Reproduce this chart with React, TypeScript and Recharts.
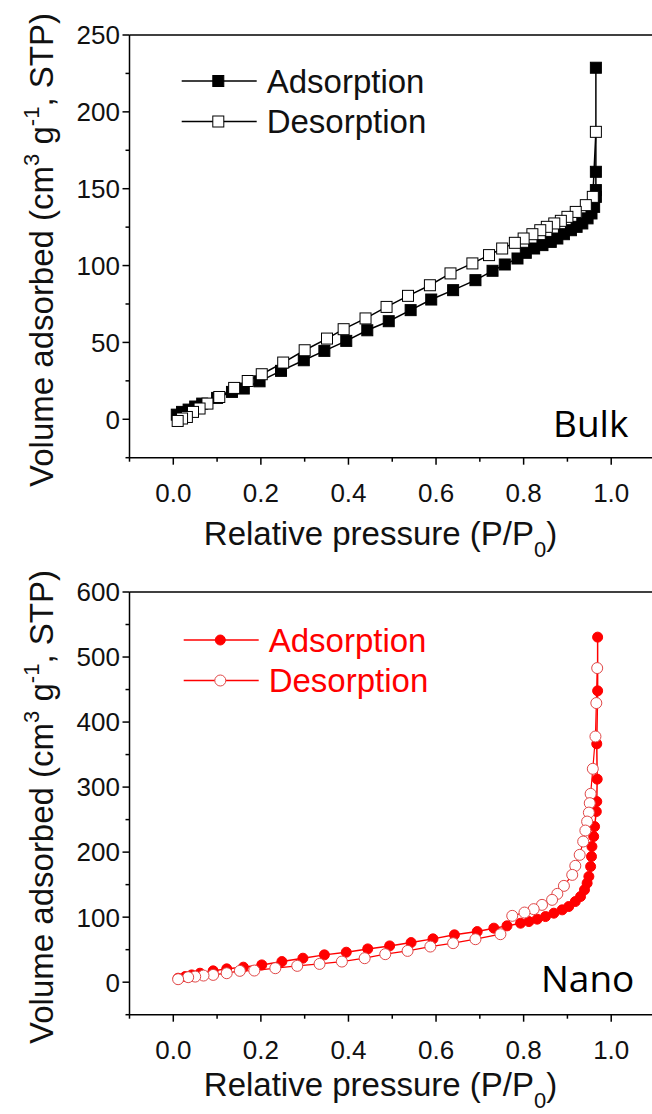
import React from 'react';
import { ScatterChart, Scatter, XAxis, YAxis, ReferenceLine, Legend } from 'recharts';

const FONT = '"Liberation Sans", Arial, sans-serif';
const ANNOT_FONT = '"Open Sans", "Noto Sans", sans-serif';

// ---- ticks / labels ----
const pressureMajorTicks = [0, 0.2, 0.4, 0.6, 0.8, 1.0];
const pressureMinorTicks = [-0.1, 0.1, 0.3, 0.5, 0.7, 0.9];
const bulkMajorTicks = [0, 50, 100, 150, 200, 250];
const bulkMinorTicks = [-25, 25, 75, 125, 175, 225];
const nanoMajorTicks = [0, 100, 200, 300, 400, 500, 600];
const nanoMinorTicks = [-50, 50, 150, 250, 350, 450, 550];
const seriesNames = ['Adsorption', 'Desorption'];
const panelNames = ['Bulk', 'Nano'];

// ---- Bulk ----
const bulkAdsP = [0.008, 0.02, 0.035, 0.05, 0.066, 0.10, 0.134, 0.161, 0.197, 0.246, 0.298, 0.345, 0.395, 0.443, 0.492, 0.542, 0.589, 0.639, 0.690, 0.729, 0.757, 0.786, 0.805, 0.824, 0.843, 0.862, 0.877, 0.892, 0.908, 0.921, 0.934, 0.946, 0.955, 0.961, 0.965, 0.965, 0.965, 0.965];
const bulkAdsV = [3.0, 4.8, 6.3, 8.3, 10.2, 13.9, 17.8, 20.0, 24.7, 31.5, 38.4, 44.5, 51.0, 57.9, 63.8, 71.0, 77.9, 84.0, 90.5, 96.6, 100.7, 104.6, 108.3, 111.1, 113.3, 115.4, 117.6, 120.4, 123.0, 125.2, 127.4, 130.7, 133.9, 138.2, 144.7, 149.1, 161.0, 228.7];
const bulkDesP = [0.965, 0.958, 0.942, 0.919, 0.900, 0.885, 0.870, 0.853, 0.838, 0.820, 0.800, 0.780, 0.751, 0.721, 0.683, 0.633, 0.586, 0.536, 0.487, 0.439, 0.389, 0.351, 0.300, 0.251, 0.202, 0.170, 0.139, 0.105, 0.078, 0.060, 0.045, 0.031, 0.020, 0.010];
const bulkDesV = [187.0, 144.7, 139.3, 134.9, 131.7, 129.1, 127.4, 125.2, 123.0, 120.4, 117.6, 114.8, 111.1, 106.8, 101.4, 94.9, 87.2, 80.3, 73.1, 65.6, 58.6, 52.5, 44.9, 36.9, 29.3, 24.9, 20.4, 14.5, 10.2, 7.0, 4.8, 1.5, 0.5, -1.1];

// ---- Nano ----
const nanoAdsP = [0.011, 0.027, 0.042, 0.061, 0.091, 0.122, 0.160, 0.202, 0.248, 0.296, 0.345, 0.395, 0.444, 0.494, 0.543, 0.593, 0.642, 0.694, 0.732, 0.762, 0.793, 0.812, 0.831, 0.850, 0.869, 0.888, 0.903, 0.918, 0.930, 0.939, 0.945, 0.949, 0.953, 0.955, 0.956, 0.960, 0.962, 0.966, 0.967, 0.968, 0.967, 0.969, 0.969];
const nanoAdsV = [6.1, 8.6, 11.2, 13.8, 17.4, 20.5, 23.1, 26.6, 31.7, 36.9, 42.0, 46.1, 51.2, 55.8, 60.9, 66.6, 72.8, 77.8, 83.1, 86.6, 90.7, 93.2, 96.9, 100.9, 106.1, 111.2, 116.3, 124.0, 131.7, 142.0, 152.3, 162.5, 177.8, 193.2, 208.6, 224.0, 239.3, 262.4, 277.8, 312.2, 366.5, 448.0, 530.6];
const nanoDesP = [0.968, 0.966, 0.964, 0.958, 0.953, 0.951, 0.949, 0.945, 0.941, 0.936, 0.928, 0.918, 0.911, 0.892, 0.877, 0.865, 0.842, 0.823, 0.802, 0.774, 0.747, 0.690, 0.639, 0.587, 0.535, 0.484, 0.437, 0.385, 0.334, 0.283, 0.233, 0.185, 0.152, 0.122, 0.091, 0.069, 0.050, 0.034, 0.011];
const nanoDesV = [483.0, 429.2, 377.8, 328.1, 289.6, 275.3, 260.8, 247.0, 233.2, 216.3, 195.8, 178.9, 165.0, 148.1, 135.8, 126.6, 118.9, 112.3, 107.1, 102.0, 73.8, 66.1, 60.0, 54.8, 48.1, 43.1, 36.9, 31.7, 28.1, 25.1, 21.5, 17.9, 17.4, 13.8, 11.2, 10.2, 8.6, 7.7, 4.6];

const zip = (p: number[], v: number[]) => p.map((x, i) => ({ p: x, v: v[i] }));

const W = 660;
const PLOT_TOP = 35;
const PLOT_BOTTOM = 457.7;
const Y_AXIS_W = 129.5;
const X_AXIS_H = 60;

const isIn = (arr: number[], v: number) => arr.some((m) => Math.abs(m - v) < 1e-9);

const XTick = (props: any) => {
  const { x, y, payload, majors } = props;
  const major = isIn(majors, payload.value);
  return (
    <g>
      <line x1={x} y1={y} x2={x} y2={y + (major ? 7 : 4)} stroke="#000" strokeWidth={1.5} />
      {major && (
        <text x={x} y={y + 44.5} textAnchor="middle" fontSize={26} fontFamily={FONT} fill="#111">
          {payload.value.toFixed(1)}
        </text>
      )}
    </g>
  );
};

const YTick = (props: any) => {
  const { x, y, payload, majors } = props;
  const major = isIn(majors, payload.value);
  return (
    <g>
      <line x1={x} y1={y} x2={x - (major ? 7 : 4)} y2={y} stroke="#000" strokeWidth={1.5} />
      {major && (
        <text x={x - 9.5} y={y} dy="0.36em" textAnchor="end" fontSize={26} fontFamily={FONT} fill="#111">
          {String(payload.value)}
        </text>
      )}
    </g>
  );
};

const XTitle = ({ baseline }: { baseline: number }) => (
  <text x={380.5} y={baseline} textAnchor="middle" fontSize={33} fontFamily={FONT} fill="#111">
    Relative pressure (P/P
    <tspan fontSize={22} dy={12}>0</tspan>
    <tspan dy={-12}>)</tspan>
  </text>
);

const YTitle = () => (
  <text
    x={53}
    y={250}
    transform="rotate(-90, 53, 250)"
    textAnchor="middle"
    fontSize={33}
    fontFamily={FONT}
    fill="#111"
  >
    Volume adsorbed (cm
    <tspan fontSize={22} dy={-14}>3</tspan>
    <tspan dy={14}> g</tspan>
    <tspan fontSize={22} dy={-14}>-1</tspan>
    <tspan dy={14}>, STP)</tspan>
  </text>
);

type MarkerKind = 'square' | 'circle';

const makeShape = (kind: MarkerKind, fill: string, stroke: string, size: number) => (props: any) => {
  const { cx, cy } = props;
  if (kind === 'square') {
    return <rect x={cx - size / 2} y={cy - size / 2} width={size} height={size} fill={fill} stroke={stroke} strokeWidth={1} />;
  }
  return <circle cx={cx} cy={cy} r={size / 2} fill={fill} stroke={stroke} strokeWidth={1} />;
};

type SeriesStyle = {
  name: string;
  kind: MarkerKind;
  fill: string;
  stroke: string;
  size: number;
  line: string;
  lineWidth: number;
};

const makeLegend = (styles: SeriesStyle[], textColor: string, offX: number) => () => (
  <svg width={320} height={100} style={{ overflow: 'visible', display: 'block' }}>
    {styles.map((s, i) => {
      const ly = 26 + i * 40.5;
      return (
        <g key={s.name}>
          <line x1={offX + 11.7} y1={ly} x2={offX + 86.7} y2={ly} stroke={s.line} strokeWidth={1.5} />
          {makeShape(s.kind, s.fill, s.stroke, s.size)({ cx: offX + 48.3, cy: ly })}
          <text x={offX + 96.7} y={ly + 11.5} fontSize={33} fontFamily={FONT} fill={textColor}>
            {s.name}
          </text>
        </g>
      );
    })}
  </svg>
);

type PanelProps = {
  height: number;
  ads: { p: number; v: number }[];
  des: { p: number; v: number }[];
  yDomain: [number, number];
  yMajors: number[];
  yMinors: number[];
  styles: SeriesStyle[];
  legendColor: string;
  legendOffX: number;
  legendTop: number;
  name: string;
  nameX: number;
  nameY: number;
  xTitleBaseline: number;
};

const Panel = (props: PanelProps) => {
  const { height, ads, des, yDomain, yMajors, yMinors, styles, legendColor, legendOffX, legendTop, name, nameX, nameY, xTitleBaseline } = props;
  const xTicks = [...pressureMinorTicks, ...pressureMajorTicks].sort((a, b) => a - b);
  const yTicks = [...yMinors, ...yMajors].sort((a, b) => a - b);
  const margin = { top: PLOT_TOP, right: 5, left: 0, bottom: height - PLOT_BOTTOM - X_AXIS_H };
  return (
    <ScatterChart width={W} height={height} margin={margin}>
      <XAxis
        type="number"
        dataKey="p"
        domain={[-0.1, 1.1]}
        ticks={xTicks}
        interval={0}
        allowDataOverflow
        height={X_AXIS_H}
        tickSize={0}
        tickMargin={0}
        tickLine={false}
        axisLine={{ stroke: '#000', strokeWidth: 1.5 }}
        tick={(p: any) => <XTick {...p} majors={pressureMajorTicks} />}
        label={{ content: () => <XTitle baseline={xTitleBaseline} /> }}
      />
      <YAxis
        type="number"
        dataKey="v"
        domain={yDomain}
        ticks={yTicks}
        interval={0}
        allowDataOverflow
        width={Y_AXIS_W}
        tickSize={0}
        tickMargin={0}
        tickLine={false}
        axisLine={{ stroke: '#000', strokeWidth: 1.5 }}
        tick={(p: any) => <YTick {...p} majors={yMajors} />}
        label={{ content: () => <YTitle /> }}
      />
      <ReferenceLine
        y={yDomain[1]}
        stroke="#000"
        strokeWidth={1.5}
        label={{
          content: () => (
            <text x={nameX} y={nameY} fontSize={37} fontFamily={ANNOT_FONT} fill="#000">
              {name}
            </text>
          ),
        }}
      />
      <Legend
        layout="vertical"
        align="center"
        verticalAlign="middle"
        wrapperStyle={{ left: 170, top: legendTop, width: 320, height: 100 }}
        content={makeLegend(styles, legendColor, legendOffX)}
      />
      <Scatter
        name={styles[0].name}
        data={ads}
        fill={styles[0].fill}
        line={{ stroke: styles[0].line, strokeWidth: styles[0].lineWidth }}
        lineType="joint"
        shape={makeShape(styles[0].kind, styles[0].fill, styles[0].stroke, styles[0].size)}
        isAnimationActive={false}
      />
      <Scatter
        name={styles[1].name}
        data={des}
        fill={styles[1].fill}
        line={{ stroke: styles[1].line, strokeWidth: styles[1].lineWidth }}
        lineType="joint"
        shape={makeShape(styles[1].kind, styles[1].fill, styles[1].stroke, styles[1].size)}
        isAnimationActive={false}
      />
    </ScatterChart>
  );
};

const bulkStyles: SeriesStyle[] = [
  { name: seriesNames[0], kind: 'square', fill: '#000', stroke: '#000', size: 11, line: '#000', lineWidth: 1.5 },
  { name: seriesNames[1], kind: 'square', fill: '#fff', stroke: '#000', size: 11, line: '#000', lineWidth: 1.5 },
];
const nanoStyles: SeriesStyle[] = [
  { name: seriesNames[0], kind: 'circle', fill: '#ff0000', stroke: '#ff0000', size: 10, line: '#ff0000', lineWidth: 1.5 },
  { name: seriesNames[1], kind: 'circle', fill: '#fff', stroke: '#e04848', size: 11, line: '#ff0000', lineWidth: 1.2 },
];

export default function App() {
  return (
    <div style={{ position: 'absolute', left: 0, top: 0, width: 652, height: 1114, overflow: 'hidden', background: '#fff' }}>
      <div style={{ position: 'absolute', left: 0, top: 0 }}>
        <Panel
          height={578}
          ads={zip(bulkAdsP, bulkAdsV)}
          des={zip(bulkDesP, bulkDesV)}
          yDomain={[-25, 250]}
          yMajors={bulkMajorTicks}
          yMinors={bulkMinorTicks}
          styles={bulkStyles}
          legendColor="#111"
          legendOffX={0}
          legendTop={55}
          name={panelNames[0]}
          nameX={553}
          nameY={437}
          xTitleBaseline={545}
        />
      </div>
      <div style={{ position: 'absolute', left: 0, top: 557 }}>
        <Panel
          height={557}
          ads={zip(nanoAdsP, nanoAdsV)}
          des={zip(nanoDesP, nanoDesV)}
          yDomain={[-50, 600]}
          yMajors={nanoMajorTicks}
          yMinors={nanoMinorTicks}
          styles={nanoStyles}
          legendColor="#ff0000"
          legendOffX={2}
          legendTop={56.5}
          name={panelNames[1]}
          nameX={541}
          nameY={434.7}
          xTitleBaseline={539}
        />
      </div>
    </div>
  );
}
